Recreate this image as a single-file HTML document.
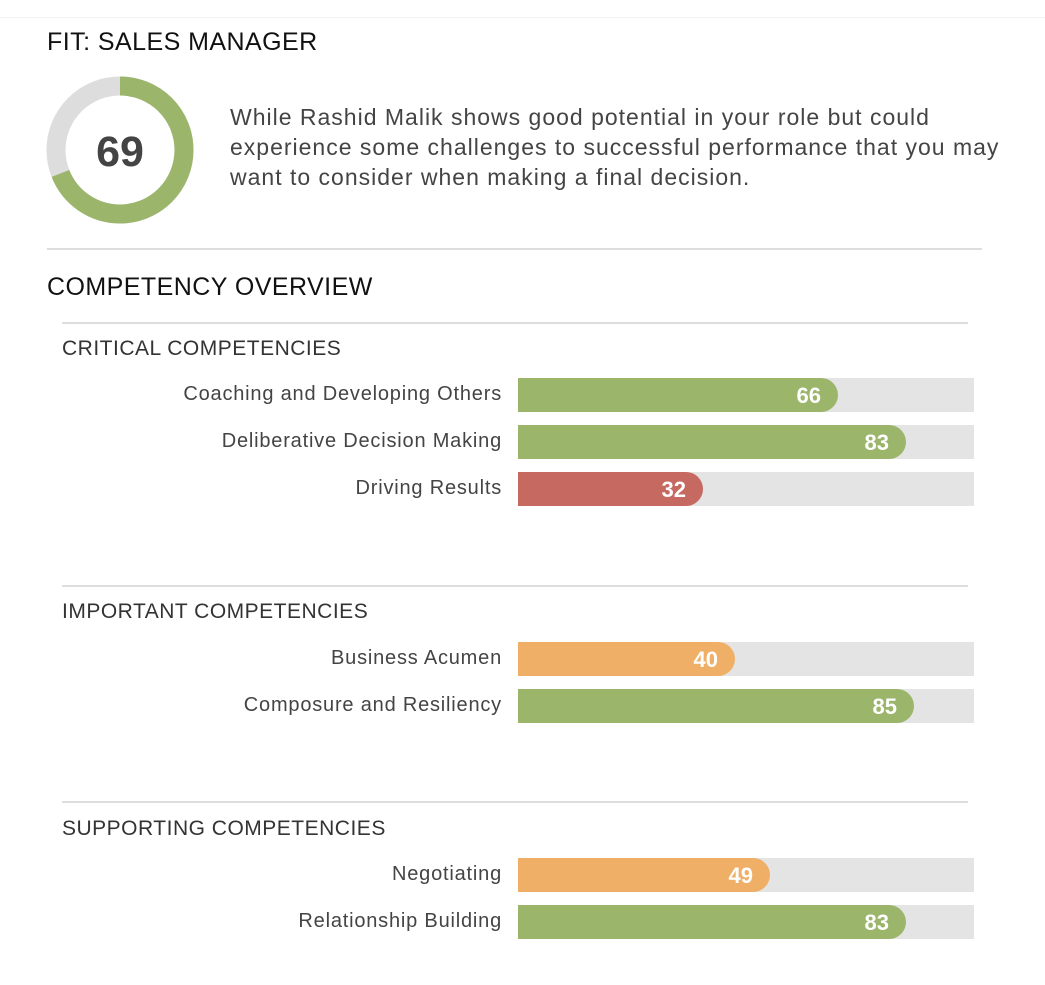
<!DOCTYPE html><html><head><style>
body{margin:0;width:1045px;height:985px;background:#fff;font-family:"Liberation Sans",sans-serif;position:relative;overflow:hidden}
.a{position:absolute;white-space:nowrap}
.t{font-size:25px;color:#111;letter-spacing:0.45px}
.h{font-size:21px;color:#333;letter-spacing:0.5px}
.l{font-size:20px;color:#444;right:543px;text-align:right;letter-spacing:0.8px}
.tr{position:absolute;left:518px;width:456px;height:34px;background:#e4e4e4}
.b{position:absolute;left:0;top:0;height:34px;border-radius:0 17px 17px 0;color:#fff;font-weight:bold;font-size:22px;line-height:35px;text-align:right;box-sizing:border-box;padding-right:17px}
.g{background:#9bb56b}.r{background:#c56961}.o{background:#efaf66}
.ln{position:absolute;height:2px;background:#ddd}
</style></head><body>
<div class="ln" style="left:0;top:17px;width:1045px;height:1px;background:#f2f2f2"></div>
<div class="a t" style="left:47px;top:28px">FIT: SALES MANAGER</div>
<svg class="a" style="left:46px;top:76px" width="148" height="148"><circle cx="74" cy="74" r="64" fill="none" stroke="#ddd" stroke-width="19"/><circle cx="74" cy="74" r="64" fill="none" stroke="#9bb56b" stroke-width="19" stroke-dasharray="277.5 402.1" transform="rotate(-90 74 74)"/><text x="74" y="90" text-anchor="middle" font-family="Liberation Sans" font-weight="bold" font-size="43" fill="#444">69</text></svg>
<div class="a" style="left:230px;top:102px;font-size:23px;line-height:30px;color:#444;letter-spacing:1px">While Rashid Malik shows good potential in your role but could<br>experience some challenges to successful performance that you may<br>want to consider when making a final decision.</div>
<div class="ln" style="left:47px;top:248px;width:935px"></div>
<div class="a t" style="left:47px;top:273px">COMPETENCY OVERVIEW</div>
<div class="ln" style="left:62px;top:322px;width:906px"></div>
<div class="a h" style="left:62px;top:337px">CRITICAL COMPETENCIES</div>
<div class="a l" style="top:383px">Coaching and Developing Others</div><div class="tr" style="top:378px"><div class="b g" style="width:320px">66</div></div>
<div class="a l" style="top:430px">Deliberative Decision Making</div><div class="tr" style="top:425px"><div class="b g" style="width:388px">83</div></div>
<div class="a l" style="top:477px">Driving Results</div><div class="tr" style="top:472px"><div class="b r" style="width:185px">32</div></div>
<div class="ln" style="left:62px;top:585px;width:906px"></div>
<div class="a h" style="left:62px;top:600px">IMPORTANT COMPETENCIES</div>
<div class="a l" style="top:647px">Business Acumen</div><div class="tr" style="top:642px"><div class="b o" style="width:217px">40</div></div>
<div class="a l" style="top:694px">Composure and Resiliency</div><div class="tr" style="top:689px"><div class="b g" style="width:396px">85</div></div>
<div class="ln" style="left:62px;top:801px;width:906px"></div>
<div class="a h" style="left:62px;top:817px">SUPPORTING COMPETENCIES</div>
<div class="a l" style="top:863px">Negotiating</div><div class="tr" style="top:858px"><div class="b o" style="width:252px">49</div></div>
<div class="a l" style="top:910px">Relationship Building</div><div class="tr" style="top:905px"><div class="b g" style="width:388px">83</div></div>
</body></html>
